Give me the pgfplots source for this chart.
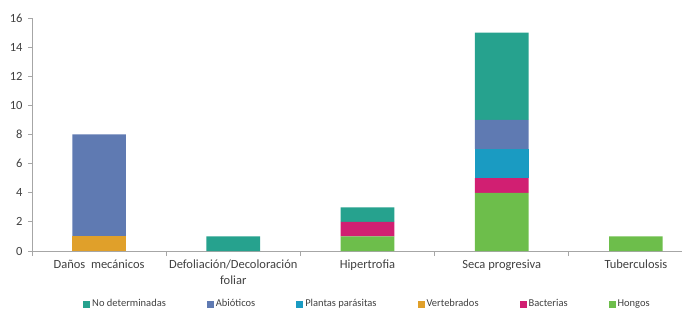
\documentclass[border=0pt]{standalone}
\usepackage{pgfplots}
\pgfplotsset{compat=1.18}
\usepackage{fontspec}
\setmainfont{Carlito}
\definecolor{nodet}{HTML}{26A28E}
\definecolor{abio}{HTML}{5F7AB2}
\definecolor{plant}{HTML}{1A9BC2}
\definecolor{vert}{HTML}{E0A02A}
\definecolor{bact}{HTML}{D11F72}
\definecolor{hong}{HTML}{6DBE4B}
\definecolor{txt}{HTML}{404040}
\definecolor{axl}{HTML}{A6A6A6}
\begin{document}
\begin{tikzpicture}
\begin{axis}[
  at={(0,0)}, anchor=south west,
  scale only axis, width=671pt, height=233pt,
  xmin=-0.5, xmax=4.5, ymin=0, ymax=16,
  ybar stacked, bar width=0.4,
  axis lines=left, axis line style={-, axl, line width=0.8pt},
  tick align=outside,
  xtick={0,1,2,3,4},
  xticklabels={Daños\ \ mecánicos, Defoliación/Decoloración\\foliar, Hipertrofia, Seca progresiva, Tuberculosis},
  major x tick style={draw=none},
  minor xtick={-0.5,0.5,1.5,2.5,3.5,4.5},
  minor x tick style={axl, line width=0.8pt},
  minor tick length=5pt,
  ytick={0,2,...,16},
  major tick length=4pt,
  y tick style={axl, line width=0.8pt},
  xticklabel style={align=center, font=\fontsize{12.5}{16}\selectfont, text=txt, yshift=-1pt},
  yticklabel style={font=\fontsize{12.5}{15}\selectfont, text=txt, xshift=-2pt},
  /pgf/number format/assume math mode=true,
  legend columns=6,
  reverse legend,
  legend style={at={(0.5,-0.2275)}, anchor=center, draw=none, fill=none,
    font=\fontsize{10.5}{12}\selectfont, text=txt,
    /tikz/every even column/.append style={column sep=39pt}},
  legend image code/.code={\fill[#1] (0pt,-3.5pt) rectangle (7pt,3.5pt);},
]
\addplot[fill=hong, draw=none] coordinates {(0,0) (1,0) (2,1) (3,4) (4,1)};
\addlegendentry{Hongos}
\addplot[fill=bact, draw=none] coordinates {(0,0) (1,0) (2,1) (3,1) (4,0)};
\addlegendentry{Bacterias}
\addplot[fill=vert, draw=none] coordinates {(0,1) (1,0) (2,0) (3,0) (4,0)};
\addlegendentry{Vertebrados}
\addplot[fill=plant, draw=none] coordinates {(0,0) (1,0) (2,0) (3,2) (4,0)};
\addlegendentry{Plantas parásitas}
\addplot[fill=abio, draw=none] coordinates {(0,7) (1,0) (2,0) (3,2) (4,0)};
\addlegendentry{Abióticos}
\addplot[fill=nodet, draw=none] coordinates {(0,0) (1,1) (2,1) (3,6) (4,0)};
\addlegendentry{No determinadas}
\end{axis}
\pgfresetboundingbox
\useasboundingbox (-32pt,-62pt) rectangle (650pt,251pt);
\end{tikzpicture}
\end{document}
